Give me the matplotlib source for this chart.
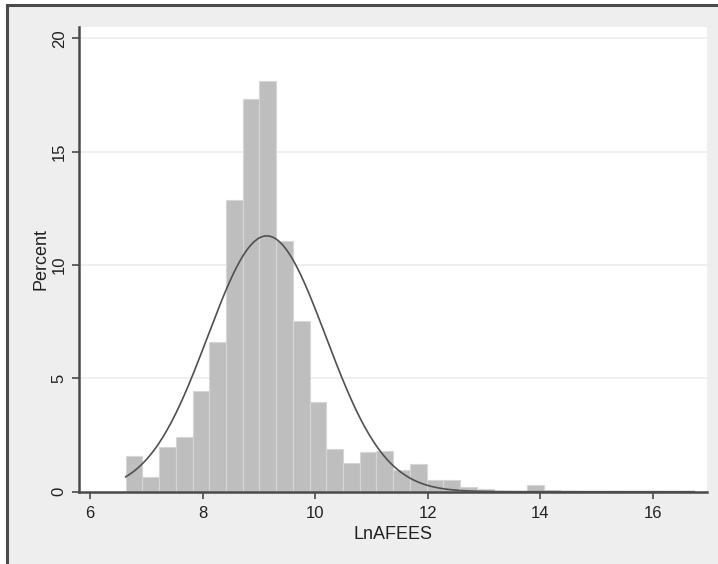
import numpy as np
import matplotlib
matplotlib.use("Agg")
import matplotlib.pyplot as plt
from matplotlib.lines import Line2D

plt.rcParams["font.family"] = ["Liberation Sans", "DejaVu Sans"]

# histogram of LnAFEES, percent per bin
bin_start = 6.634
bin_width = 0.297
percent = [1.59, 0.66, 1.99, 2.40, 4.46, 6.62, 12.87, 17.31, 18.12, 11.06,
           7.54, 3.94, 1.88, 1.28, 1.76, 1.81, 0.96, 1.21, 0.52, 0.52,
           0.22, 0.10, 0.04, 0.0, 0.28, 0.08, 0.02, 0.0, 0.0, 0.02,
           0.0, 0.02, 0.0, 0.04]

# normal density overlay
norm_mean = 9.14
norm_sd = 1.05

x_ticks = [6, 8, 10, 12, 14, 16]
y_ticks = [0, 5, 10, 15, 20]

edges = bin_start + bin_width * np.arange(len(percent) + 1)

fig = plt.figure(figsize=(7.18, 5.64), dpi=100)
fig.patch.set_facecolor("white")

# grey graph region with dark frame (top/left visible)
bg = plt.Rectangle((7 / 718, 0), 1, 1 - 5 / 564, transform=fig.transFigure,
                   facecolor="#eeeeee", edgecolor="none", zorder=-10)
fig.patches.append(bg)
fig.lines.append(Line2D([7 / 718, 7 / 718], [0, 1 - 5 / 564], transform=fig.transFigure,
                        color="#4a4a4a", lw=2.2, zorder=-5))
fig.lines.append(Line2D([7 / 718, 1], [1 - 5 / 564, 1 - 5 / 564], transform=fig.transFigure,
                        color="#4a4a4a", lw=2.2, zorder=-5))

ax = fig.add_axes([79.3 / 718, 1 - 491.7 / 564, (707 - 79.3) / 718, (491.7 - 27) / 564])
ax.set_facecolor("white")

ax.bar(edges[:-1], percent, width=bin_width, align="edge",
       color="#bebebe", edgecolor="#d6d6d6", linewidth=0.8, zorder=2)

xs = np.linspace(edges[0], edges[-1], 400)
pdf = np.exp(-0.5 * ((xs - norm_mean) / norm_sd) ** 2) / (norm_sd * np.sqrt(2 * np.pi))
ax.plot(xs, 100 * bin_width * pdf, color="#505050", lw=1.2, zorder=3)

ax.set_xlim(5.81, 16.96)
ax.set_ylim(0, 20.5)
ax.set_xticks(x_ticks)
ax.set_yticks(y_ticks)
ax.set_yticklabels([str(v) for v in y_ticks], rotation=90, va="center")
ax.tick_params(axis="both", direction="out", length=5, width=1.2, color="#4a4a4a",
               labelsize=12, labelcolor="#222222")
ax.tick_params(axis="y", pad=4)
ax.tick_params(axis="x", pad=5)

for v in y_ticks[1:]:
    ax.axhline(v, color="#ececec", lw=1.2, zorder=1)

for side in ["top", "right"]:
    ax.spines[side].set_visible(False)
for side in ["left", "bottom"]:
    ax.spines[side].set_color("#4a4a4a")
    ax.spines[side].set_linewidth(1.8)

ax.set_xlabel("LnAFEES", fontsize=13, labelpad=4, color="#222222")
ax.set_ylabel("Percent", fontsize=13, labelpad=2, color="#222222")

plt.savefig("out.png", dpi=100)
plt.close()
